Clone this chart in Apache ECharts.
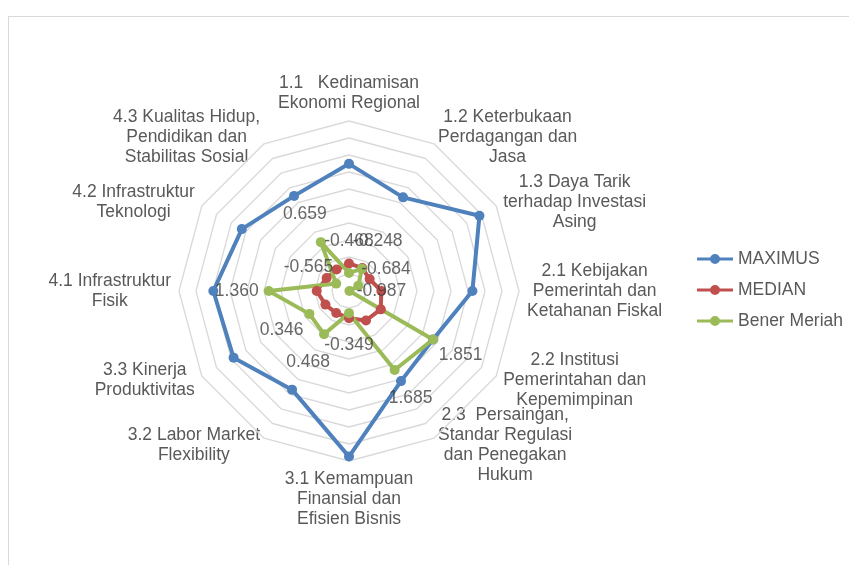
<!DOCTYPE html>
<html>
<head>
<meta charset="utf-8">
<script src="https://cdn.jsdelivr.net/npm/echarts@6/dist/echarts.min.js"></script>
<style>
  html, body { margin: 0; padding: 0; background: #ffffff; }
  #wrap { position: relative; width: 849px; height: 565px; overflow: hidden; }
  #frame { position: absolute; left: 8px; top: 16px; width: 900px; height: 600px;
           border-left: 1.5px solid #d9d9d9; border-top: 1.5px solid #d9d9d9; }
  #chart { position: absolute; left: 0; top: 0; width: 849px; height: 565px; }
</style>
</head>
<body>
<div id="wrap"><div id="frame"></div><div id="chart"></div></div>
<script>
// Indicator names, in clockwise order starting from the top
const categories = [
  '1.1   Kedinamisan\nEkonomi Regional',
  '1.2 Keterbukaan\nPerdagangan dan\nJasa',
  '1.3 Daya Tarik\nterhadap Investasi\nAsing',
  '2.1 Kebijakan\nPemerintah dan\nKetahanan Fiskal',
  '2.2 Institusi\nPemerintahan dan\nKepemimpinan',
  '2.3  Persaingan,\nStandar Regulasi\ndan Penegakan\nHukum',
  '3.1 Kemampuan\nFinansial dan\nEfisien Bisnis',
  '3.2 Labor Market\nFlexibility',
  '3.3 Kinerja\nProduktivitas',
  '4.1 Infrastruktur\nFisik',
  '4.2 Infrastruktur\nTeknologi',
  '4.3 Kualitas Hidup,\nPendidikan dan\nStabilitas Sosial'
];

const maximus     = [2.74, 2.18, 3.43, 2.63, 1.851, 2.06, 3.87, 2.35, 2.92, 2.99, 2.64, 2.23];
const median      = [-0.19, -0.22, -0.30, -0.05, 0.08, 0.00, -0.20, -0.25, -0.20, -0.05, -0.24, -0.27];
const benerMeriah = [-0.468, -0.248, -0.684, -0.987, 1.851, 1.685, -0.349, 0.468, 0.346, 1.360, -0.565, 0.659];

const seriesNames  = ['MAXIMUS', 'MEDIAN', 'Bener Meriah'];
const seriesColors = ['#4f81bd', '#c0504d', '#9bbb59'];

// Value axis shared by every spoke; gridline rings sit on these ticks
const axisMin = -1;
const axisMax = 4;
const axisStep = 0.5;
const ringTicks = [-0.5, 0, 0.5, 1, 1.5, 2, 2.5, 3, 3.5, 4];

const FONT = '"Liberation Sans", Arial, sans-serif';
const CENTER = [349, 291];
const RADIUS = 170;

// The radar component lays indicators out counter-clockwise, so feed it the
// list reversed after the first entry to get a clockwise reading order.
const order = [0].concat(categories.map((_, i) => i).slice(1).reverse());
const reorder = arr => order.map(i => arr[i]);

const indicator = reorder(categories).map(name => ({ name, min: axisMin, max: axisMax }));

function radarSeries(name, values, color) {
  return {
    type: 'radar',
    name,
    symbol: 'circle',
    symbolSize: 10,
    lineStyle: { color, width: 4 },
    itemStyle: { color },
    emphasis: { disabled: true },
    z: 3,
    data: [{ name, value: reorder(values) }]
  };
}

// Dodecagon gridlines, one ring per tick value
const ringSeries = {
  type: 'radar',
  name: 'rings',
  symbol: 'none',
  silent: true,
  z: 1,
  lineStyle: { color: '#d9d9d9', width: 1.3, opacity: 1 },
  itemStyle: { color: '#d9d9d9' },
  emphasis: { disabled: true },
  data: ringTicks.map(t => ({ value: categories.map(() => t) }))
};

// Value labels for Bener Meriah, pushed outwards along each spoke
const LABEL_DIST = 32;
const labelData = benerMeriah.map((v, i) => {
  const a = (90 - i * 360 / categories.length) * Math.PI / 180;
  return {
    value: [v, i],
    label: { offset: [LABEL_DIST * Math.cos(a), -LABEL_DIST * Math.sin(a)] }
  };
});

const chart = echarts.init(document.getElementById('chart'), null, { renderer: 'canvas' });

chart.setOption({
  animation: false,
  backgroundColor: 'transparent',
  textStyle: { fontFamily: FONT },
  legend: {
    orient: 'vertical',
    left: 697,
    top: 249,
    padding: 0,
    itemWidth: 36,
    itemHeight: 10,
    itemGap: 11,
    icon: 'path://M0,4H36V7H0Z M13,5.5A5,5 0 1 1 23,5.5A5,5 0 1 1 13,5.5Z',
    textStyle: { color: '#595959', fontSize: 17.5, fontFamily: FONT, lineHeight: 20 },
    data: seriesNames,
    selectedMode: false
  },
  radar: {
    center: CENTER,
    radius: RADIUS,
    startAngle: 90,
    shape: 'polygon',
    nameGap: 8,
    indicator,
    axisName: {
      color: '#595959',
      fontSize: 17.5,
      fontFamily: FONT,
      lineHeight: 20,
      formatter: name => name.split('\n').map(l => '{c|' + l + '}').join('\n'),
      rich: {
        c: { align: 'center', color: '#595959', fontSize: 17.5, fontFamily: FONT, lineHeight: 20 }
      }
    },
    axisLine: { show: false },
    axisTick: { show: false },
    axisLabel: { show: false },
    splitArea: { show: false },
    splitLine: { show: false }
  },
  polar: { center: CENTER, radius: RADIUS },
  angleAxis: {
    type: 'category',
    data: categories,
    startAngle: 90 + 180 / categories.length,
    clockwise: true,
    boundaryGap: true,
    axisLine: { show: false },
    axisTick: { show: false },
    axisLabel: { show: false },
    splitLine: { show: false },
    splitArea: { show: false }
  },
  radiusAxis: {
    min: axisMin,
    max: axisMax,
    interval: axisStep,
    axisLine: { show: false },
    axisTick: { show: false },
    axisLabel: { show: false },
    splitLine: { show: false },
    splitArea: { show: false }
  },
  series: [
    ringSeries,
    radarSeries(seriesNames[0], maximus, seriesColors[0]),
    radarSeries(seriesNames[1], median, seriesColors[1]),
    radarSeries(seriesNames[2], benerMeriah, seriesColors[2]),
    {
      type: 'scatter',
      coordinateSystem: 'polar',
      symbolSize: 1,
      itemStyle: { color: 'rgba(0,0,0,0)' },
      silent: true,
      z: 10,
      label: {
        show: true,
        position: 'inside',
        color: '#404040',
        fontSize: 17.5,
        fontFamily: FONT,
        formatter: p => p.value[0].toFixed(3)
      },
      data: labelData
    }
  ]
});
</script>
</body>
</html>
